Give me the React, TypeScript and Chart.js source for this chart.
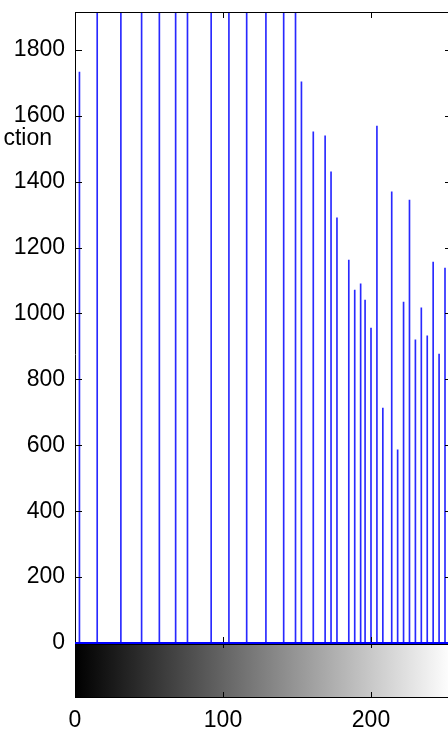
import React, { useEffect, useRef } from "react";
import { Chart, registerables } from "chart.js";

Chart.register(...registerables);

// Gray levels (x) of each histogram stem and its pixel count (y)
const grayLevels = [3, 15, 31, 45, 57, 68, 76, 92, 104, 116, 129, 141, 149, 153, 161, 169, 173, 177, 185, 189, 193, 196, 200, 204, 208, 214, 218, 222, 226, 230, 234, 238, 242, 246, 250];
const counts = [1733, 2450, 2600, 2380, 2520, 2300, 2700, 2480, 2350, 2550, 2400, 2200, 2050, 1703, 1551, 1539, 1430, 1290, 1162, 1071, 1090, 1041, 956, 1569, 713, 1369, 586, 1035, 1344, 920, 1017, 932, 1156, 877, 1138];
const xTicks = [0, 100, 200];
const yTicks = [0, 200, 400, 600, 800, 1000, 1200, 1400, 1600, 1800];
const xMax = 255;
const yMax = 1915;
const sideLabel = "ction";

const FONT = "'Liberation Sans', Arial, Helvetica, sans-serif";
const CANVAS_W = 470;
const CANVAS_H = 732;

const decor = {
  id: "matlabDecor",
  afterDraw(chart: any) {
    const { ctx, scales } = chart;
    const xs = scales.x;
    const ys = scales.y;
    const x0 = Math.round(xs.getPixelForValue(0));
    const x1 = Math.round(xs.getPixelForValue(xMax));
    const yb = Math.round(ys.getPixelForValue(0));
    const yt = Math.round(ys.getPixelForValue(yMax));
    const cbTop = yb + 1;
    const cbBot = yb + 54;
    ctx.save();
    // colour bar
    const g = ctx.createLinearGradient(x0, 0, x1, 0);
    g.addColorStop(0, "#000000");
    g.addColorStop(1, "#ffffff");
    ctx.fillStyle = g;
    ctx.fillRect(x0, cbTop, x1 - x0, cbBot - cbTop);
    ctx.strokeStyle = "#000";
    ctx.lineWidth = 1;
    ctx.beginPath();
    // axes box
    ctx.moveTo(x0 + 0.5, yt);
    ctx.lineTo(x0 + 0.5, cbBot);
    ctx.moveTo(x0, yt + 0.5);
    ctx.lineTo(x1, yt + 0.5);
    ctx.moveTo(x0, cbTop + 0.5);
    ctx.lineTo(x1, cbTop + 0.5);
    ctx.moveTo(x0, cbBot + 0.5);
    ctx.lineTo(x1, cbBot + 0.5);
    ctx.moveTo(x1 - 0.5, yt);
    ctx.lineTo(x1 - 0.5, cbBot);
    // y ticks (inward, both sides)
    yTicks.forEach((v) => {
      const y = Math.round(ys.getPixelForValue(v)) + 0.5;
      ctx.moveTo(x0, y);
      ctx.lineTo(x0 + 7, y);
      ctx.moveTo(x1, y);
      ctx.lineTo(x1 - 7, y);
    });
    // x ticks: top, bottom of plot, colour bar top & bottom
    xTicks.forEach((v) => {
      const x = Math.round(xs.getPixelForValue(v)) + 0.5;
      ctx.moveTo(x, yt);
      ctx.lineTo(x, yt + 6);
      ctx.moveTo(x, yb);
      ctx.lineTo(x, yb - 6);
      ctx.moveTo(x, cbTop);
      ctx.lineTo(x, cbTop + 4);
      ctx.moveTo(x, cbBot);
      ctx.lineTo(x, cbBot - 5);
    });
    ctx.stroke();
    // stem baseline
    ctx.strokeStyle = "#0000ff";
    ctx.lineWidth = 2;
    ctx.beginPath();
    ctx.moveTo(x0, yb);
    ctx.lineTo(x1, yb);
    ctx.stroke();
    // cut-off side label
    ctx.fillStyle = "#000";
    ctx.font = `23px ${FONT}`;
    ctx.textAlign = "right";
    ctx.textBaseline = "middle";
    ctx.fillText(sideLabel, 52, 139);
    ctx.restore();
  },
};

export default function App() {
  const ref = useRef<HTMLCanvasElement | null>(null);

  useEffect(() => {
    const canvas = ref.current;
    if (!canvas) return;
    const chart = new Chart(canvas, {
      type: "bar",
      data: {
        datasets: [
          {
            data: grayLevels.map((g, i) => ({ x: g, y: counts[i] })),
            backgroundColor: "rgb(40,40,255)",
            borderWidth: 0,
            barThickness: 1,
          },
        ],
      },
      options: {
        responsive: false,
        devicePixelRatio: 1,
        animation: false,
        layout: { padding: { left: 0, right: 17.6, top: 12, bottom: 0 } },
        plugins: { legend: { display: false }, tooltip: { enabled: false }, title: { display: false } },
        scales: {
          x: {
            type: "linear",
            offset: false,
            min: 0,
            max: xMax,
            grid: { display: false, drawTicks: false },
            border: { display: false },
            ticks: {
              autoSkip: false,
              maxRotation: 0,
              padding: 64,
              color: "#000",
              font: { family: FONT, size: 23 },
              callback: (v: any) => String(v),
            },
            afterBuildTicks: (s: any) => {
              s.ticks = xTicks.map((v) => ({ value: v }));
            },
            afterFit: (s: any) => {
              s.height = 89;
              s.paddingLeft = 0;
              s.paddingRight = 0;
            },
          },
          y: {
            type: "linear",
            min: 0,
            max: yMax,
            grid: { display: false, drawTicks: false },
            border: { display: false },
            ticks: {
              autoSkip: false,
              padding: 10,
              color: "#000",
              font: { family: FONT, size: 23 },
              callback: (v: any) => String(v),
            },
            afterBuildTicks: (s: any) => {
              s.ticks = yTicks.map((v) => ({ value: v }));
            },
            afterFit: (s: any) => {
              s.width = 75;
              s.paddingTop = 0;
              s.paddingBottom = 0;
            },
          },
        },
      },
      plugins: [decor],
    });
    return () => chart.destroy();
  }, []);

  return (
    <div style={{ position: "fixed", left: 0, top: 0, width: 448, height: 732, overflow: "hidden", background: "#fff" }}>
      <canvas ref={ref} width={CANVAS_W} height={CANVAS_H} style={{ display: "block", width: CANVAS_W, height: CANVAS_H }} />
    </div>
  );
}
